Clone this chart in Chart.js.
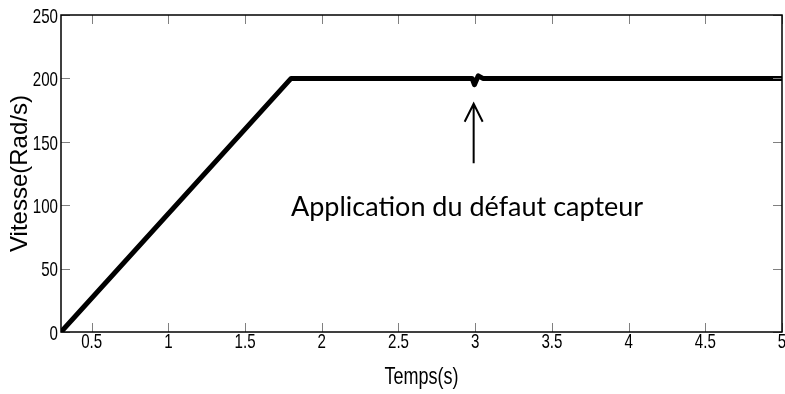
<!DOCTYPE html>
<html>
<head>
<meta charset="utf-8">
<script src="https://cdn.jsdelivr.net/npm/chart.js@4.4.0/dist/chart.umd.min.js"></script>
<style>
  html, body { margin: 0; padding: 0; background: #fff; }
  #wrap { width: 785px; height: 394px; }
</style>
</head>
<body>
<div id="wrap"><canvas id="speedChart" width="785" height="394"></canvas></div>
<script>
// ===== Vitesse du moteur - défaut capteur =====

// time axis (s) and speed (rad/s)
const times = [0.3, 1.8, 2.98, 2.995, 3.02, 3.05, 5];
const speed = [0, 200, 200, 195, 202, 200, 200];

const xTicks = [0.5, 1, 1.5, 2, 2.5, 3, 3.5, 4, 4.5, 5];
const yTicks = [0, 50, 100, 150, 200, 250];
const xTickLabels = ['0.5', '1', '1.5', '2', '2.5', '3', '3.5', '4', '4.5', '5'];
const yTickLabels = ['0', '50', '100', '150', '200', '250'];

const xTitle = 'Temps(s)';
const yTitle = 'Vitesse(Rad/s)';

// annotation: arrow at the fault instant + label
const faultTime = 2.99;
const arrowFrom = 133;
const arrowTo = 180;
const noteText = 'Application du défaut capteur';
const notePos = [2.947, 91.5];

const sans = "'Liberation Sans', Arial, sans-serif";

// narrow-looking text (the original uses Arial Narrow)
function narrowText(ctx, text, x, y, size, align, squeeze) {
    ctx.save();
    ctx.font = size + 'px ' + sans;
    ctx.textAlign = align;
    ctx.textBaseline = 'middle';
    ctx.translate(x, y);
    ctx.scale(squeeze, 1);
    ctx.fillText(text, 0, 0);
    ctx.restore();
}

/**
 * Inward ticks on all four sides, the frame, labels and annotation
 */
const matlabAxes = {
    id: 'matlabAxes',
    afterDatasetsDraw(chart) {
        const ctx = chart.ctx;
        const area = chart.chartArea;
        const xs = chart.scales.x;
        const ys = chart.scales.y;
        const len = 9;

        ctx.save();
        ctx.strokeStyle = '#808080';
        ctx.lineWidth = 1;
        xTicks.forEach(v => {
            const px = Math.round(xs.getPixelForValue(v)) + 0.5;
            ctx.beginPath();
            ctx.moveTo(px, area.bottom);
            ctx.lineTo(px, area.bottom - len);
            ctx.moveTo(px, area.top);
            ctx.lineTo(px, area.top + len);
            ctx.stroke();
        });
        yTicks.forEach(v => {
            const py = Math.round(ys.getPixelForValue(v)) + 0.5;
            ctx.beginPath();
            ctx.moveTo(area.left, py);
            ctx.lineTo(area.left + len, py);
            ctx.moveTo(area.right, py);
            ctx.lineTo(area.right - len, py);
            ctx.stroke();
        });

        // frame
        ctx.strokeStyle = '#000';
        ctx.lineWidth = 1.5;
        ctx.strokeRect(area.left, area.top, area.right - area.left, area.bottom - area.top);

        // tick labels
        ctx.fillStyle = '#000';
        xTicks.forEach((v, i) => {
            narrowText(ctx, xTickLabels[i], xs.getPixelForValue(v), area.bottom + 10, 21, 'center', 0.72);
        });
        yTicks.forEach((v, i) => {
            narrowText(ctx, yTickLabels[i], area.left - 3, ys.getPixelForValue(v) + 2, 21, 'right', 0.72);
        });

        // axis titles
        narrowText(ctx, xTitle, (area.left + area.right) / 2, 377, 24, 'center', 0.75);
        ctx.save();
        ctx.translate(20, (area.top + area.bottom) / 2);
        ctx.rotate(-Math.PI / 2);
        ctx.font = '24px ' + sans;
        ctx.textAlign = 'center';
        ctx.textBaseline = 'middle';
        ctx.fillText(yTitle, 0, 0);
        ctx.restore();

        // arrow
        const ax = xs.getPixelForValue(faultTime);
        const y0 = ys.getPixelForValue(arrowFrom);
        const y1 = ys.getPixelForValue(arrowTo);
        ctx.lineWidth = 2;
        ctx.beginPath();
        ctx.moveTo(ax, y0);
        ctx.lineTo(ax, y1);
        ctx.moveTo(ax - 9, y1 + 18);
        ctx.lineTo(ax, y1);
        ctx.lineTo(ax + 9, y1 + 18);
        ctx.stroke();

        // label
        ctx.font = "27px Lato, 'Open Sans', sans-serif";
        ctx.textAlign = 'center';
        ctx.textBaseline = 'alphabetic';
        ctx.fillText(noteText, xs.getPixelForValue(notePos[0]), ys.getPixelForValue(notePos[1]));
        ctx.restore();
    }
};

function initSpeedChart() {
    const ctx = document.getElementById('speedChart');

    new Chart(ctx.getContext('2d'), {
        type: 'line',
        data: {
            datasets: [{
                data: times.map((t, i) => ({ x: t, y: speed[i] })),
                borderColor: '#000',
                borderWidth: 5,
                borderJoinStyle: 'round',
                pointRadius: 0,
                tension: 0,
                fill: false
            }]
        },
        options: {
            responsive: false,
            animation: false,
            layout: { padding: { top: 15, right: 3, left: 0, bottom: 0 } },
            plugins: {
                legend: { display: false },
                tooltip: { enabled: false }
            },
            scales: {
                x: {
                    type: 'linear',
                    min: 0.3,
                    max: 5,
                    afterFit: scale => { scale.height = 62; },
                    grid: { display: false, drawTicks: false },
                    border: { display: false },
                    ticks: { display: false }
                },
                y: {
                    min: 0,
                    max: 250,
                    afterFit: scale => { scale.width = 61; },
                    grid: { display: false, drawTicks: false },
                    border: { display: false },
                    ticks: { display: false }
                }
            }
        },
        plugins: [matlabAxes]
    });
}

document.addEventListener('DOMContentLoaded', initSpeedChart);
</script>
</body>
</html>
